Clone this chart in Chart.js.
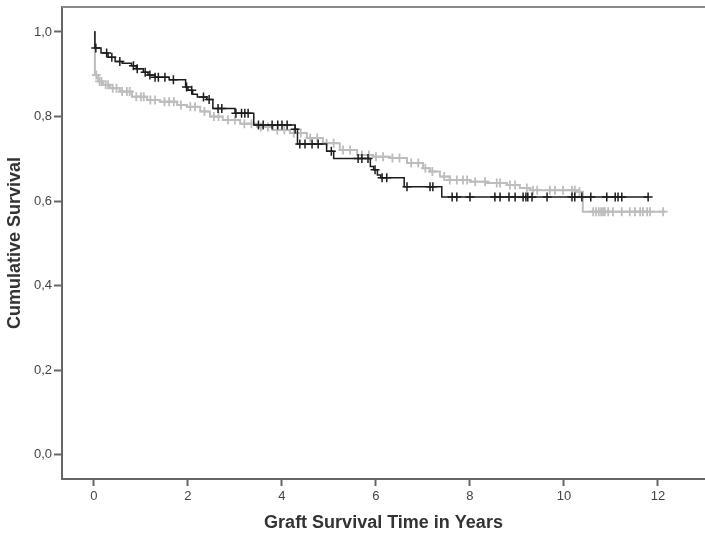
<!DOCTYPE html>
<html>
<head>
<meta charset="utf-8">
<script src="https://cdn.jsdelivr.net/npm/chart.js@4/dist/chart.umd.min.js"></script>
<style>
  html, body { margin: 0; padding: 0; background: #ffffff; }
  #wrap { width: 705px; height: 535px; position: relative; }
</style>
</head>
<body>
<div id="wrap"><canvas id="c" width="705" height="535"></canvas></div>
<script>
// ---- Data (Kaplan-Meier curves) ----
const xTicks = [0, 2, 4, 6, 8, 10, 12];
const yTicks = [0.0, 0.2, 0.4, 0.6, 0.8, 1.0];

// Dark group: step curve
const darkStepTimes = [0, 0.02, 0.15, 0.30, 0.45, 0.60, 0.80, 0.90, 1.05, 1.15, 1.30, 1.60, 1.95, 2.00, 2.10, 2.20, 2.40, 2.53, 3.00, 3.40, 4.28, 4.33, 4.95, 5.10, 5.88, 5.95, 6.03, 6.10, 6.60, 7.40, 11.79];
const darkStepSurv  = [1.0, 0.962, 0.950, 0.940, 0.930, 0.926, 0.920, 0.913, 0.905, 0.898, 0.893, 0.887, 0.870, 0.862, 0.853, 0.846, 0.840, 0.819, 0.808, 0.780, 0.770, 0.735, 0.718, 0.701, 0.682, 0.674, 0.662, 0.655, 0.634, 0.610, 0.610];
// Dark group: censored marks
const darkCensorTimes = [0.04, 0.27, 0.38, 0.55, 0.84, 0.92, 1.09, 1.19, 1.30, 1.37, 1.51, 1.69, 1.97, 2.08, 2.33, 2.45, 2.64, 2.72, 3.02, 3.14, 3.21, 3.28, 3.50, 3.60, 3.79, 3.91, 4.00, 4.11, 4.28, 4.38, 4.49, 4.64, 4.77, 5.05, 5.62, 5.70, 5.83, 5.98, 6.13, 6.23, 6.66, 7.15, 7.21, 7.62, 7.72, 8.00, 8.53, 8.64, 8.83, 8.96, 9.13, 9.19, 9.23, 9.32, 9.64, 10.17, 10.23, 10.38, 10.57, 10.91, 11.09, 11.15, 11.23, 11.79];
const darkCensorSurv  = [0.962, 0.950, 0.940, 0.930, 0.920, 0.913, 0.905, 0.898, 0.893, 0.893, 0.893, 0.887, 0.870, 0.862, 0.846, 0.840, 0.819, 0.819, 0.808, 0.808, 0.808, 0.808, 0.780, 0.780, 0.780, 0.780, 0.780, 0.780, 0.770, 0.735, 0.735, 0.735, 0.735, 0.718, 0.701, 0.701, 0.701, 0.674, 0.655, 0.655, 0.634, 0.634, 0.634, 0.610, 0.610, 0.610, 0.610, 0.610, 0.610, 0.610, 0.610, 0.610, 0.610, 0.610, 0.610, 0.610, 0.610, 0.610, 0.610, 0.610, 0.610, 0.610, 0.610, 0.610];

// Light group: step curve
const lightStepTimes = [0, 0.02, 0.09, 0.19, 0.34, 0.55, 0.81, 1.13, 1.40, 1.77, 1.98, 2.26, 2.47, 2.74, 3.11, 3.47, 3.81, 4.17, 4.53, 4.87, 5.23, 5.60, 5.94, 6.30, 6.66, 7.00, 7.15, 7.36, 7.57, 8.00, 8.36, 8.79, 9.06, 9.28, 10.28, 10.40, 12.15];
const lightStepSurv  = [1.0, 0.898, 0.883, 0.875, 0.867, 0.859, 0.847, 0.839, 0.835, 0.827, 0.823, 0.812, 0.800, 0.792, 0.783, 0.775, 0.768, 0.761, 0.749, 0.737, 0.721, 0.709, 0.705, 0.702, 0.690, 0.678, 0.670, 0.658, 0.650, 0.646, 0.643, 0.638, 0.631, 0.626, 0.622, 0.575, 0.575];
// Light group: censored marks
const lightCensorTimes = [0.05, 0.12, 0.16, 0.25, 0.30, 0.40, 0.48, 0.60, 0.70, 0.76, 0.90, 1.00, 1.06, 1.20, 1.30, 1.50, 1.60, 1.70, 1.85, 2.05, 2.15, 2.35, 2.55, 2.65, 2.85, 3.00, 3.20, 3.35, 3.55, 3.70, 3.90, 4.05, 4.25, 4.40, 4.60, 4.75, 4.95, 5.10, 5.30, 5.45, 5.70, 5.85, 6.00, 6.15, 6.35, 6.50, 6.75, 6.90, 7.05, 7.20, 7.45, 7.57, 7.72, 7.85, 7.94, 8.11, 8.32, 8.57, 8.64, 8.85, 8.96, 9.21, 9.34, 9.43, 9.70, 9.81, 9.98, 10.17, 10.23, 10.33, 10.62, 10.68, 10.74, 10.79, 10.83, 10.87, 10.94, 11.04, 11.23, 11.40, 11.51, 11.62, 11.68, 11.77, 11.83, 12.11];
const lightCensorSurv  = [0.898, 0.883, 0.883, 0.875, 0.875, 0.867, 0.867, 0.859, 0.859, 0.859, 0.847, 0.847, 0.847, 0.839, 0.839, 0.835, 0.835, 0.835, 0.827, 0.823, 0.823, 0.812, 0.800, 0.800, 0.792, 0.792, 0.783, 0.783, 0.775, 0.775, 0.768, 0.768, 0.761, 0.761, 0.749, 0.749, 0.737, 0.737, 0.721, 0.721, 0.709, 0.709, 0.705, 0.705, 0.702, 0.702, 0.690, 0.690, 0.678, 0.670, 0.658, 0.650, 0.650, 0.650, 0.650, 0.646, 0.646, 0.643, 0.643, 0.638, 0.638, 0.631, 0.626, 0.626, 0.626, 0.626, 0.626, 0.626, 0.626, 0.622, 0.575, 0.575, 0.575, 0.575, 0.575, 0.575, 0.575, 0.575, 0.575, 0.575, 0.575, 0.575, 0.575, 0.575, 0.575, 0.575];

const xTitle = 'Graft Survival Time in Years';
const yTitle = 'Cumulative Survival';

// ---- Build datasets ----
const pts = (ts, ss) => ts.map((t, i) => ({ x: t, y: ss[i] }));
const DARK = '#1c1c1c';
const LIGHT = '#bdbdbd';

const tickFont = { family: "'Liberation Sans Narrow', 'Arial Narrow', 'Liberation Sans', Arial, sans-serif", size: 13 };
const titleFont = { family: "'Liberation Sans', Arial, sans-serif", size: 18, weight: 'bold' };

const frameTop = {
  id: 'frameTop',
  afterDraw(chart) {
    const { ctx, chartArea } = chart;
    ctx.save();
    ctx.strokeStyle = '#8a8a8a';
    ctx.lineWidth = 2;
    ctx.beginPath();
    ctx.moveTo(chartArea.left, chartArea.top);
    ctx.lineTo(chartArea.right + 2, chartArea.top);
    ctx.stroke();
    ctx.restore();
  }
};

new Chart(document.getElementById('c'), {
  type: 'scatter',
  data: {
    datasets: [
      { label: 'dark censored', data: pts(darkCensorTimes, darkCensorSurv), showLine: false,
        pointStyle: 'cross', pointRadius: 4.5, pointBorderWidth: 1.5, borderColor: DARK, backgroundColor: DARK },
      { label: 'dark', data: pts(darkStepTimes, darkStepSurv), showLine: true, stepped: 'before',
        borderColor: DARK, borderWidth: 1.5, pointRadius: 0, fill: false },
      { label: 'light censored', data: pts(lightCensorTimes, lightCensorSurv), showLine: false,
        pointStyle: 'cross', pointRadius: 4.5, pointBorderWidth: 1.8, borderColor: LIGHT, backgroundColor: LIGHT },
      { label: 'light', data: pts(lightStepTimes, lightStepSurv), showLine: true, stepped: 'before',
        borderColor: LIGHT, borderWidth: 2, pointRadius: 0, fill: false }
    ]
  },
  options: {
    responsive: false,
    animation: false,
    devicePixelRatio: 1,
    layout: { autoPadding: false, padding: { top: 7, right: 0, left: 0, bottom: 0 } },
    plugins: { legend: { display: false }, tooltip: { enabled: false } },
    scales: {
      x: {
        type: 'linear', min: -0.68, max: 13.0,
        afterBuildTicks: (s) => { s.ticks = xTicks.map(v => ({ value: v })); },
        afterFit: (s) => { s.height = 56; s.paddingLeft = 0; s.paddingRight = 0; },
        grid: { drawOnChartArea: false, drawTicks: true, tickLength: 7, tickWidth: 2, tickColor: '#666' },
        border: { display: true, color: '#666', width: 2 },
        ticks: { color: '#444', font: tickFont, padding: 3, maxRotation: 0, callback: (v) => String(v) },
        title: { display: true, text: xTitle, color: '#333', font: titleFont, padding: { top: 2, bottom: 1 } }
      },
      y: {
        type: 'linear', min: -0.057, max: 1.059,
        afterBuildTicks: (s) => { s.ticks = yTicks.map(v => ({ value: v })); },
        afterFit: (s) => { s.width = 62; s.paddingTop = 0; s.paddingBottom = 0; },
        grid: { drawOnChartArea: false, drawTicks: true, tickLength: 8, tickWidth: 2, tickColor: '#666' },
        border: { display: true, color: '#666', width: 2 },
        ticks: { color: '#444', font: tickFont, padding: 2, callback: (v) => Number(v).toFixed(1).replace('.', ',') },
        title: { display: true, text: yTitle, color: '#333', font: titleFont, padding: { top: 4, bottom: 4 } }
      }
    }
  },
  plugins: [frameTop]
});
</script>
</body>
</html>
